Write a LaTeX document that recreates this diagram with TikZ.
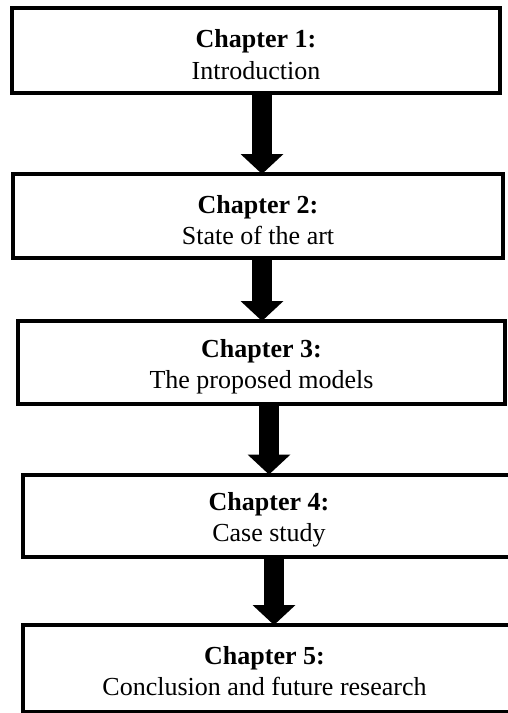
\documentclass[tikz,border=0pt]{standalone}
\usepackage{fontspec}
\setmainfont{Liberation Serif}
\usetikzlibrary{arrows.meta}
\tikzset{
  box/.style={draw=black, line width=4pt, rectangle, inner sep=0pt, outer sep=0pt,
    fill=white},
  txt/.style={align=center, inner sep=0pt, font=\fontsize{26}{31.5}\selectfont},
  bigarrow/.style={line width=20pt, draw=black,
    -{Triangle[width=43pt,length=20pt,line width=0pt]}}
}
\begin{document}
\begin{tikzpicture}[x=1pt,y=-1pt]
\useasboundingbox (0,0) rectangle (507,713);
\node[box, minimum width=488pt, minimum height=85pt] (b1) at (256,50.5) {};
\node[box, minimum width=490pt, minimum height=84pt] (b2) at (258,216) {};
\node[box, minimum width=487pt, minimum height=83pt] (b3) at (261.5,362.5) {};
\node[box, minimum width=492pt, minimum height=82.5pt] (b4) at (269,515.75) {};
\node[box, minimum width=495pt, minimum height=86.5pt] (b5) at (270.5,668.25) {};
\node[txt] (t1) at ([yshift=-4pt]b1.center) {\textbf{Chapter 1:}\\Introduction};
\node[txt] (t2) at ([yshift=-4pt]b2.center) {\textbf{Chapter 2:}\\State of the art};
\node[txt] (t3) at ([yshift=-4pt]b3.center) {\textbf{Chapter 3:}\\The proposed models};
\node[txt] (t4) at ([yshift=-4pt]b4.center) {\textbf{Chapter 4:}\\Case study};
\node[txt] (t5) at ([xshift=-6pt,yshift=-3pt]b5.center) {\textbf{Chapter 5:}\\Conclusion and future research};
\coordinate (ax1) at (262,0);
\coordinate (ax2) at (262,0);
\coordinate (ax3) at (269,0);
\coordinate (ax4) at (274,0);
\draw[bigarrow] (b1.south -| ax1) -- (b2.north -| ax1);
\draw[bigarrow] (b2.south -| ax2) -- (b3.north -| ax2);
\draw[bigarrow] (b3.south -| ax3) -- (b4.north -| ax3);
\draw[bigarrow] (b4.south -| ax4) -- (b5.north -| ax4);
\end{tikzpicture}
\end{document}
